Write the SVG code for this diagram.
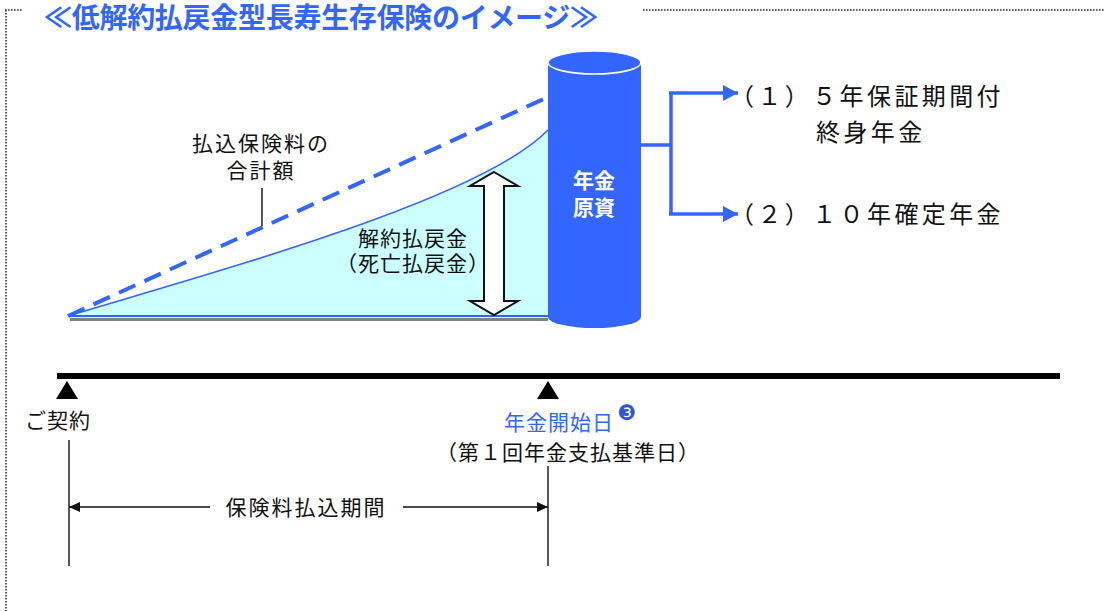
<svg xmlns="http://www.w3.org/2000/svg" width="1105" height="611" viewBox="0 0 1105 611">
<style>
.t{font-family:"Noto Sans CJK JP","Noto Sans",sans-serif;fill:#111;}
.lbl{font-size:21px;letter-spacing:2px;}
.big{font-size:24px;letter-spacing:3.4px;}
.blue{fill:#3366ff;}
.dot{stroke:#333;stroke-width:1.6;stroke-dasharray:1.6 1.4;fill:none;}
.thin{stroke:#111;stroke-width:1.4;fill:none;}
.conn{stroke:#3366ff;stroke-width:3.5;fill:none;}
</style>
<defs>
<marker id="bh" markerWidth="15" markerHeight="16" refX="15" refY="8" orient="auto" markerUnits="userSpaceOnUse">
<path d="M0,0 L15,8 L0,16 Z" fill="#3366ff"/>
</marker>
<marker id="kh" markerWidth="11" markerHeight="10" refX="11" refY="5" orient="auto" markerUnits="userSpaceOnUse">
<path d="M0,0 L11,5 L0,10 Z" fill="#111"/>
</marker>
</defs>
<rect width="1105" height="611" fill="#fff"/>
<g id="frame">
<path class="dot" d="M5,10 H23 M643,10 H1105 M6,10 V611"/>
</g>
<g id="title">
<text class="t" x="44" y="28" font-size="28" font-weight="bold" style="fill:#3366ff" textLength="554" lengthAdjust="spacing">≪低解約払戻金型長寿生存保険のイメージ≫</text>
</g>
<g id="refund-area">
<path d="M68,316 C220,270 480,200 548,130 L548,318 L68,318 Z" fill="#ccffff"/>
<path d="M70,319.5 L548,319.5" stroke="#808080" stroke-width="3"/>
<path d="M68,316 L548,316" stroke="#3366ff" stroke-width="2"/>
<path d="M68,316 C220,270 480,200 548,130" stroke="#3366ff" stroke-width="1.6" fill="none"/>
</g>
<g id="premium-total">
<path d="M68,316 L548,97" stroke="#3366ff" stroke-width="4" stroke-dasharray="18 10" fill="none"/>
<path class="thin" d="M262,188 V226"/>
<text class="t lbl" x="261" y="151" text-anchor="middle">払込保険料の</text>
<text class="t lbl" x="261" y="178" text-anchor="middle">合計額</text>
</g>
<g id="refund-label">
<path d="M494,172 L518,186 L504,186 L504,301 L518,301 L494,315 L470,301 L484,301 L484,186 L470,186 Z" fill="#fff" stroke="#111" stroke-width="2" stroke-linejoin="miter"/>
<text class="t" x="413" y="246" text-anchor="middle" font-size="21" letter-spacing="1">解約払戻金</text>
<text class="t" x="413" y="271" text-anchor="middle" font-size="21" letter-spacing="1">（死亡払戻金）</text>
</g>
<g id="cylinder">
<path d="M548,63 L548,317 A46.5,11 0 0 0 641,317 L641,63 Z" fill="#3366ff"/>
<ellipse cx="594.5" cy="62.5" rx="46.5" ry="11.5" fill="#3366ff" stroke="#fff" stroke-width="1.6"/>
<text class="t" x="594" y="188" text-anchor="middle" font-size="21" font-weight="bold" style="fill:#fff">年金</text>
<text class="t" x="594" y="215" text-anchor="middle" font-size="21" font-weight="bold" style="fill:#fff">原資</text>
</g>
<g id="connectors">
<path class="conn" d="M641,145 H671"/>
<path class="conn" d="M671,93 V214"/>
<path class="conn" d="M669,93 H738" marker-end="url(#bh)"/>
<path class="conn" d="M669,214 H738" marker-end="url(#bh)"/>
<path class="thin" d="M210,507 H69" marker-end="url(#kh)"/>
<path class="thin" d="M403,507 H548" marker-end="url(#kh)"/>
</g>
<g id="option1">
<text class="t big" x="730" y="105">（１）５年保証期間付</text>
<text class="t big" x="816" y="141">終身年金</text>
</g>
<g id="option2">
<text class="t big" x="730" y="223">（２）１０年確定年金</text>
</g>
<g id="timeline">
<path d="M57,376 H1060" stroke="#000" stroke-width="6"/>
<path d="M67,381 L56,399 L78,399 Z" fill="#000"/>
<path d="M548,381 L537,399 L559,399 Z" fill="#000"/>
</g>
<g id="contract">
<text class="t" x="58" y="428" text-anchor="middle" font-size="21" letter-spacing="1">ご契約</text>
<path class="thin" d="M69,440 V566"/>
</g>
<g id="start-date">
<text class="t blue" x="559" y="430" text-anchor="middle" font-size="21" letter-spacing="1" style="fill:#3366ff">年金開始日</text>
<text x="627" y="420" text-anchor="middle" font-family="DejaVu Sans,sans-serif" font-size="21" fill="#2f55d4">❸</text>
<text class="t" x="568" y="460" text-anchor="middle" font-size="21" letter-spacing="1">（第１回年金支払基準日）</text>
<path class="thin" d="M548,466 V566"/>
</g>
<g id="payment-period">
<text class="t lbl" x="306" y="515" text-anchor="middle" letter-spacing="2.5">保険料払込期間</text>
</g>
</svg>
